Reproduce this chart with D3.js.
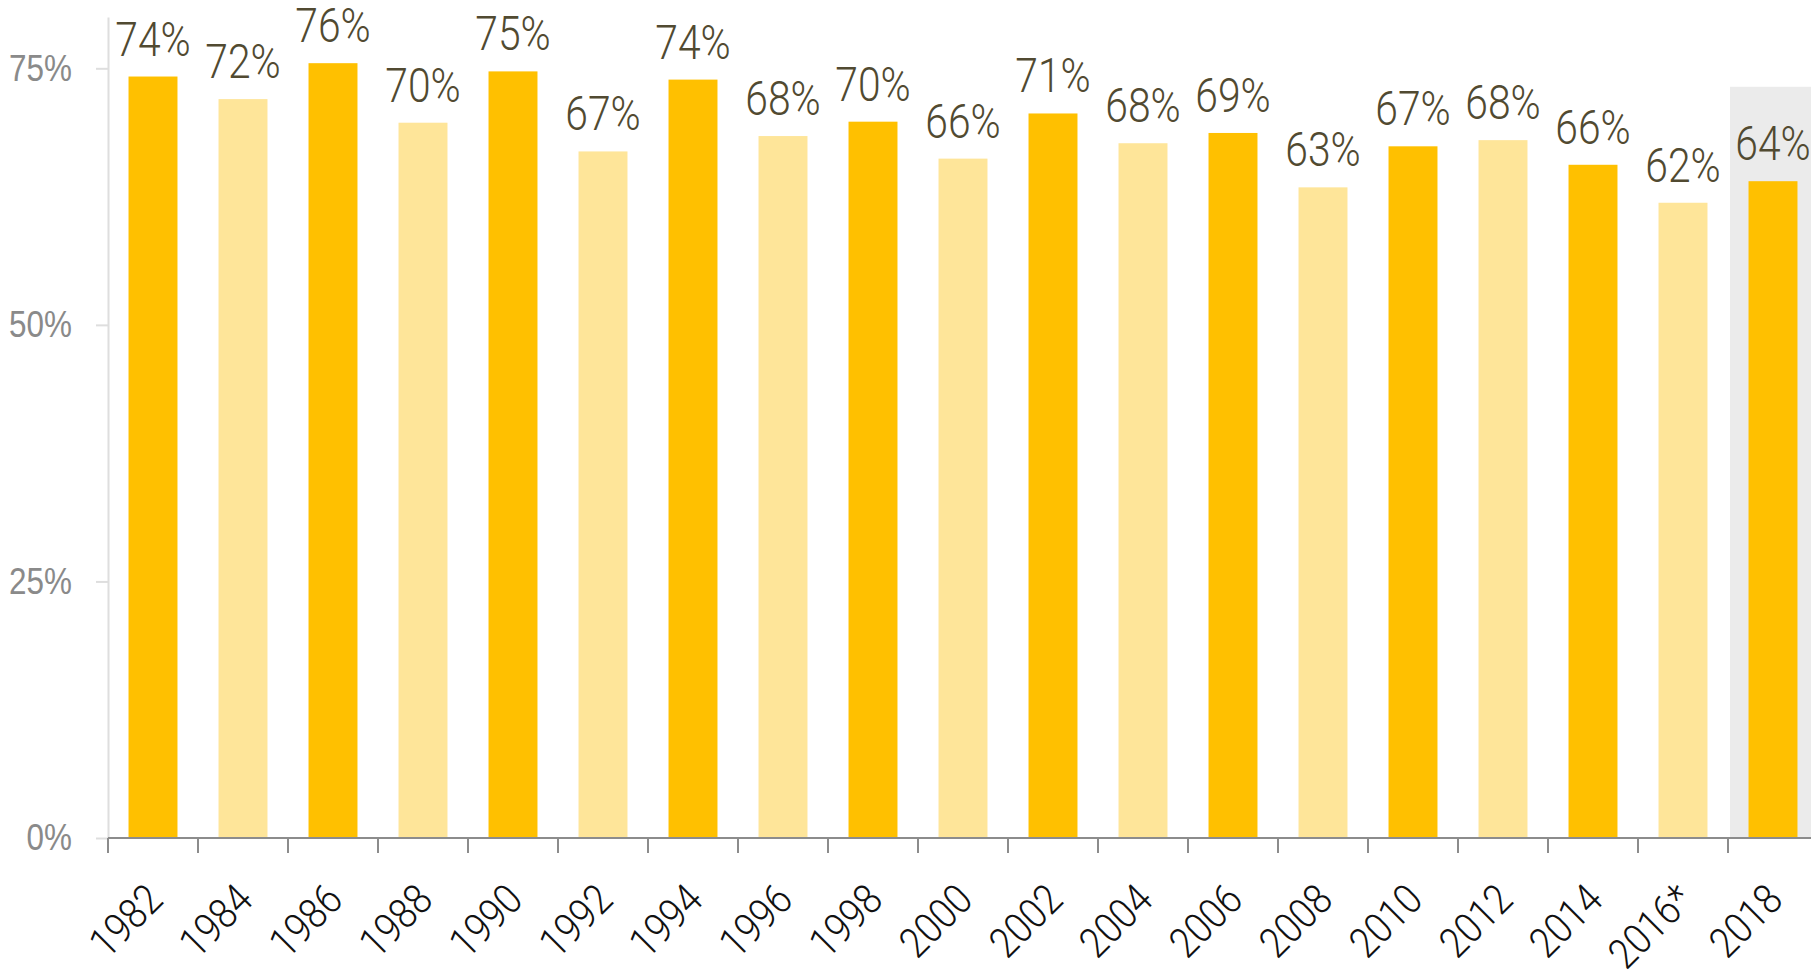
<!DOCTYPE html>
<html>
<head>
<meta charset="utf-8">
<script src="https://cdn.jsdelivr.net/npm/d3@7"></script>
<style>
  body { margin: 0; background: #fff; }
  svg { display: block; font-family: Roboto, "Noto Sans", sans-serif; }
</style>
</head>
<body>
<div id="chart"></div>
<script>
// Survey years and share (%) per year
const years = ["1982", "1984", "1986", "1988", "1990", "1992", "1994", "1996", "1998", "2000",
  "2002", "2004", "2006", "2008", "2010", "2012", "2014", "2016*", "2018"];
const shares = [74.2, 72.0, 75.5, 69.7, 74.7, 66.9, 73.9, 68.4, 69.8, 66.2,
  70.6, 67.7, 68.7, 63.4, 67.4, 68.0, 65.6, 61.9, 64.0];
const yTicks = [0, 25, 50, 75];
const highlightYear = "2018";
const highlightTop = 73.2;

const width = 1811, height = 973;
const margin = { top: 17, right: 0, bottom: 135, left: 108 };
const step = 90;
const squeeze = 0.85; // condensed look for the labels

const svg = d3.select("#chart")
  .append("svg")
  .attr("width", width)
  .attr("height", height);

const x = d3.scaleBand()
  .domain(years)
  .range([margin.left, margin.left + step * years.length])
  .paddingInner(0.456)
  .paddingOuter(0.228);

const y = d3.scaleLinear()
  .domain([0, 80])
  .range([height - margin.bottom, margin.top]);

const offset = (x.step() - x.bandwidth()) / 2;

// grey highlight behind the latest year
svg.append("rect")
  .attr("x", x(highlightYear) - offset + 2)
  .attr("y", y(highlightTop))
  .attr("width", x.step())
  .attr("height", y(0) - y(highlightTop))
  .attr("fill", "#ebebeb");

// y axis
const yAxis = svg.append("g")
  .attr("transform", `translate(${margin.left},0)`)
  .call(d3.axisLeft(y).tickValues(yTicks).tickSize(12).tickSizeOuter(0)
    .tickPadding(24).tickFormat(d => d + "%"));
yAxis.select(".domain").attr("stroke", "#dedede").attr("stroke-width", 2);
yAxis.selectAll(".tick line").attr("stroke", "#dedede").attr("stroke-width", 2);
yAxis.selectAll(".tick text")
  .attr("x", -36 / squeeze)
  .attr("transform", `scale(${squeeze},1)`)
  .attr("fill", "#8a8a8a")
  .style("font-size", "37px")
  .style("font-weight", 300);

// bars
svg.selectAll(".bar")
  .data(years)
  .enter()
  .append("rect")
  .attr("class", "bar")
  .attr("x", d => x(d))
  .attr("y", (d, i) => y(shares[i]))
  .attr("width", x.bandwidth())
  .attr("height", (d, i) => y(0) - y(shares[i]))
  .attr("fill", (d, i) => i % 2 === 0 ? "#ffc000" : "#fee599");

// value labels
svg.selectAll(".value")
  .data(years)
  .enter()
  .append("text")
  .attr("class", "value")
  .attr("transform", (d, i) =>
    `translate(${x(d) + x.bandwidth() / 2},${y(shares[i]) - 21}) scale(${squeeze},1)`)
  .attr("text-anchor", "middle")
  .attr("fill", "#514a31")
  .style("font-size", "48px")
  .style("font-weight", 300)
  .text((d, i) => Math.round(shares[i]) + "%");

// x axis, ticks on band edges
const xAxis = svg.append("g");
xAxis.append("line")
  .attr("x1", margin.left)
  .attr("x2", width)
  .attr("y1", y(0))
  .attr("y2", y(0))
  .attr("stroke", "#8c8c8c")
  .attr("stroke-width", 2);

xAxis.selectAll(".xtick")
  .data(years)
  .enter()
  .append("line")
  .attr("class", "xtick")
  .attr("x1", d => x(d) - offset)
  .attr("x2", d => x(d) - offset)
  .attr("y1", y(0))
  .attr("y2", y(0) + 15)
  .attr("stroke", "#8c8c8c")
  .attr("stroke-width", 2);

xAxis.selectAll(".xlabel")
  .data(years)
  .enter()
  .append("text")
  .attr("class", "xlabel")
  .attr("transform", d =>
    `translate(${x(d) + x.bandwidth() / 2 + 12},${y(0) + 64}) rotate(-45) scale(0.88,1)`)
  .attr("text-anchor", "end")
  .attr("fill", "#111")
  .style("font-size", "42px")
  .style("font-weight", 300)
  .text(d => d);
</script>
</body>
</html>
